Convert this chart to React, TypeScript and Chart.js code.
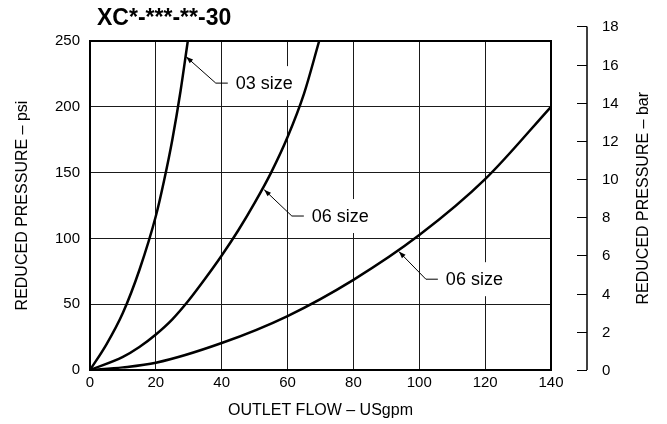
import React, { useEffect, useRef } from "react";
import { Chart, registerables } from "chart.js";

Chart.register(...registerables);

const FONT = "'Liberation Sans', Arial, Helvetica, sans-serif";

const TITLE = "XC*-***-**-30";
const X_TITLE = "OUTLET FLOW – USgpm";
const Y_TITLE = "REDUCED PRESSURE – psi";
const Y2_TITLE = "REDUCED PRESSURE – bar";

// 03 size curve
const flow03 = [0, 5, 10, 15, 20, 22.5, 25, 27.5, 29.7];
const psi03 = [0, 19.5, 43.5, 76, 117, 144, 175, 212, 250];

// 06 size (middle) curve
const flow06a = [0, 10, 15, 20, 25, 30, 35, 40, 45, 50, 55, 60, 65, 69.6];
const psi06a = [0, 10, 17.5, 27, 38.5, 53, 69.5, 87, 106, 127, 150, 177, 210, 250];

// 06 size (lower) curve
const flow06b = [0, 10, 20, 40, 60, 80, 100, 120, 140];
const psi06b = [0, 2, 5.5, 20.5, 41, 68.5, 102.5, 145, 200];

const xTicks = [0, 20, 40, 60, 80, 100, 120, 140];
const psiTicks = [0, 50, 100, 150, 200, 250];
const barTicks = [0, 2, 4, 6, 8, 10, 12, 14, 16, 18];
const PSI_PER_BAR = 14.5038;

// annotation callouts: label, arrow tip and elbow (data units)
const calloutText = ["03 size", "06 size", "06 size"];
const calloutTipFlow = [29.2, 52.9, 93.8];
const calloutTipPsi = [238, 137, 90];
const calloutElbowFlow = [38.2, 61.3, 102];
const calloutElbowPsi = [218, 117, 69];

const pts = (xs: number[], ys: number[]) => xs.map((x, i) => ({ x, y: ys[i] }));

const decorPlugin = {
  id: "decor",
  beforeDatasetsDraw(chart: any) {
    const { ctx, chartArea: a } = chart;
    ctx.save();
    ctx.strokeStyle = "#000";
    ctx.lineWidth = 2;
    ctx.strokeRect(a.left, a.top, a.right - a.left, a.bottom - a.top);
    ctx.restore();
  },
  afterDatasetsDraw(chart: any) {
    const { ctx, chartArea: a } = chart;
    const xs = chart.scales.x;
    const ys = chart.scales.y;
    ctx.save();

    // callouts
    ctx.font = `18px ${FONT}`;
    ctx.textBaseline = "middle";
    ctx.textAlign = "left";
    calloutText.forEach((t, i) => {
      const tx = xs.getPixelForValue(calloutTipFlow[i]);
      const ty = ys.getPixelForValue(calloutTipPsi[i]);
      const ex = xs.getPixelForValue(calloutElbowFlow[i]);
      const ey = ys.getPixelForValue(calloutElbowPsi[i]);
      const hx = ex + 12;
      const textX = hx + 8;
      const w = ctx.measureText(t).width;
      ctx.fillStyle = "#fff";
      ctx.fillRect(textX - 5, ey - 17, w + 10, 34);
      ctx.strokeStyle = "#000";
      ctx.lineWidth = 1;
      ctx.beginPath();
      ctx.moveTo(tx, ty);
      ctx.lineTo(ex, ey);
      ctx.lineTo(hx, ey);
      ctx.stroke();
      // arrow head
      const ang = Math.atan2(ty - ey, tx - ex);
      const L = 7, H = 2.5;
      ctx.fillStyle = "#000";
      ctx.beginPath();
      ctx.moveTo(tx, ty);
      ctx.lineTo(tx - L * Math.cos(ang) + H * Math.sin(ang), ty - L * Math.sin(ang) - H * Math.cos(ang));
      ctx.lineTo(tx - L * Math.cos(ang) - H * Math.sin(ang), ty - L * Math.sin(ang) + H * Math.cos(ang));
      ctx.closePath();
      ctx.fill();
      ctx.fillText(t, textX, ey + 1);
    });

    // right-hand bar axis
    const axX = a.right + 36;
    const yTop = ys.getPixelForValue(barTicks[barTicks.length - 1] * PSI_PER_BAR);
    const yBot = ys.getPixelForValue(barTicks[0] * PSI_PER_BAR);
    ctx.strokeStyle = "#000";
    ctx.lineWidth = 1.5;
    ctx.beginPath();
    ctx.moveTo(axX, yTop);
    ctx.lineTo(axX, yBot);
    ctx.stroke();
    ctx.lineWidth = 1;
    ctx.font = `15px ${FONT}`;
    ctx.fillStyle = "#000";
    ctx.textAlign = "left";
    ctx.textBaseline = "middle";
    barTicks.forEach((b) => {
      const py = Math.round(ys.getPixelForValue(b * PSI_PER_BAR)) + 0.5;
      ctx.beginPath();
      ctx.moveTo(axX - 10, py);
      ctx.lineTo(axX, py);
      ctx.stroke();
      ctx.fillText(String(b), axX + 15, py);
    });
    ctx.save();
    ctx.translate(a.right + 93, (yTop + yBot) / 2);
    ctx.rotate(-Math.PI / 2);
    ctx.textAlign = "center";
    ctx.font = `16px ${FONT}`;
    ctx.fillText(Y2_TITLE, 0, 0);
    ctx.restore();

    // title
    ctx.font = `bold 23px ${FONT}`;
    ctx.textAlign = "left";
    ctx.textBaseline = "middle";
    ctx.fillStyle = "#000";
    ctx.fillText(TITLE, a.left + 7, 19);

    ctx.restore();
  },
};

export default function App() {
  const ref = useRef<HTMLCanvasElement>(null);
  useEffect(() => {
    const curve = (xs: number[], ys: number[]) => ({
      data: pts(xs, ys),
      borderColor: "#000",
      borderWidth: 2.5,
      pointRadius: 0,
      fill: false,
      cubicInterpolationMode: "monotone" as const,
    });
    const chart = new Chart(ref.current!, {
      type: "line",
      data: {
        datasets: [curve(flow03, psi03), curve(flow06a, psi06a), curve(flow06b, psi06b)],
      },
      options: {
        animation: false,
        responsive: false,
        devicePixelRatio: 1,
        layout: { padding: { top: 41, right: 116, left: 0, bottom: 0 } },
        plugins: { legend: { display: false }, tooltip: { enabled: false }, title: { display: false } },
        scales: {
          x: {
            type: "linear",
            min: 0,
            max: 140,
            afterBuildTicks: (s: any) => {
              s.ticks = xTicks.map((v) => ({ value: v }));
            },
            afterFit: (s: any) => {
              s.height = 54;
            },
            ticks: { font: { size: 15, family: FONT }, color: "#000", padding: 4, maxRotation: 0 },
            grid: { color: "#1a1a1a", lineWidth: 1, drawTicks: false },
            border: { display: false },
            title: {
              display: true,
              text: X_TITLE,
              color: "#000",
              font: { size: 16, family: FONT },
              padding: { top: 0, bottom: 3.5 },
            },
          },
          y: {
            type: "linear",
            min: 0,
            max: 250,
            afterBuildTicks: (s: any) => {
              s.ticks = psiTicks.map((v) => ({ value: v }));
            },
            afterFit: (s: any) => {
              s.width = 90;
            },
            ticks: { font: { size: 15, family: FONT }, color: "#000", padding: 10 },
            grid: { color: "#1a1a1a", lineWidth: 1, drawTicks: false },
            border: { display: false },
            title: {
              display: true,
              text: Y_TITLE,
              color: "#000",
              font: { size: 16, family: FONT },
              padding: { top: 13.4, bottom: 0 },
            },
          },
        },
      },
      plugins: [decorPlugin],
    });
    return () => chart.destroy();
  }, []);
  return (
    <div style={{ position: "fixed", left: 0, top: 0, width: 667, height: 424, background: "#fff" }}>
      <canvas ref={ref} width={667} height={424} style={{ display: "block", width: 667, height: 424 }} />
    </div>
  );
}
